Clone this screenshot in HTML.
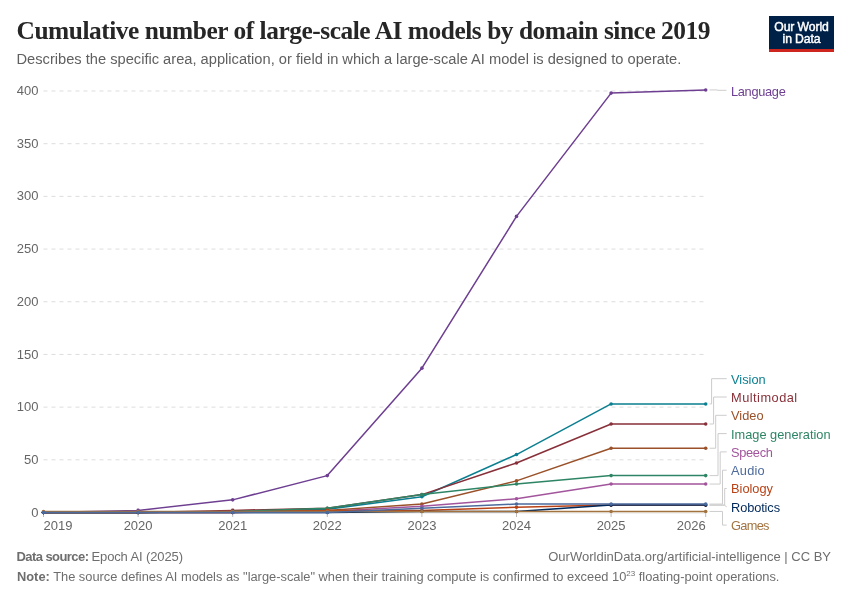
<!DOCTYPE html>
<html><head><meta charset="utf-8"><style>
html,body{margin:0;padding:0;background:#fff;width:850px;height:600px;overflow:hidden}
svg{display:block;will-change:transform}
text{font-family:"Liberation Sans",sans-serif}
.ax{font-size:13px;fill:#666}
.lb{font-size:12.8px}
.title{font-family:"Liberation Serif",serif;font-weight:bold;font-size:25.4px;fill:#262626}
.sub{font-size:14.67px;fill:#606060}
.ft{font-size:12.85px;fill:#6e6e6e}
.ft2{font-size:13px;fill:#6e6e6e}
</style></head><body>
<svg width="850" height="600" viewBox="0 0 850 600">

<text x="16.5" y="38.6" class="title" textLength="694" lengthAdjust="spacing">Cumulative number of large-scale AI models by domain since 2019</text>
<text x="16.5" y="63.6" class="sub">Describes the specific area, application, or field in which a large-scale AI model is designed to operate.</text>
<rect x="769" y="16" width="65" height="33" fill="#002147"/>
<rect x="769" y="49" width="65" height="3" fill="#ce261e"/>
<text x="801.5" y="31" text-anchor="middle" fill="#fff" style="font-size:12.2px;letter-spacing:-0.1px" stroke="#fff" stroke-width="0.45">Our World</text>
<text x="801.5" y="43.2" text-anchor="middle" fill="#fff" style="font-size:12.2px;letter-spacing:-0.1px" stroke="#fff" stroke-width="0.45">in Data</text>
<line x1="43.5" x2="705.7" y1="459.81" y2="459.81" stroke="#dddddd" stroke-width="1" stroke-dasharray="4,4"/>
<line x1="43.5" x2="705.7" y1="407.12" y2="407.12" stroke="#dddddd" stroke-width="1" stroke-dasharray="4,4"/>
<line x1="43.5" x2="705.7" y1="354.44" y2="354.44" stroke="#dddddd" stroke-width="1" stroke-dasharray="4,4"/>
<line x1="43.5" x2="705.7" y1="301.75" y2="301.75" stroke="#dddddd" stroke-width="1" stroke-dasharray="4,4"/>
<line x1="43.5" x2="705.7" y1="249.06" y2="249.06" stroke="#dddddd" stroke-width="1" stroke-dasharray="4,4"/>
<line x1="43.5" x2="705.7" y1="196.38" y2="196.38" stroke="#dddddd" stroke-width="1" stroke-dasharray="4,4"/>
<line x1="43.5" x2="705.7" y1="143.69" y2="143.69" stroke="#dddddd" stroke-width="1" stroke-dasharray="4,4"/>
<line x1="43.5" x2="705.7" y1="91.00" y2="91.00" stroke="#dddddd" stroke-width="1" stroke-dasharray="4,4"/>
<text x="38.5" y="516.60" text-anchor="end" class="ax">0</text>
<text x="38.5" y="463.91" text-anchor="end" class="ax">50</text>
<text x="38.5" y="411.23" text-anchor="end" class="ax">100</text>
<text x="38.5" y="358.54" text-anchor="end" class="ax">150</text>
<text x="38.5" y="305.85" text-anchor="end" class="ax">200</text>
<text x="38.5" y="253.16" text-anchor="end" class="ax">250</text>
<text x="38.5" y="200.47" text-anchor="end" class="ax">300</text>
<text x="38.5" y="147.79" text-anchor="end" class="ax">350</text>
<text x="38.5" y="95.10" text-anchor="end" class="ax">400</text>
<line x1="43.50" x2="43.50" y1="512.5" y2="517" stroke="#bbb" stroke-width="1"/>
<text x="43.50" y="529.7" text-anchor="start" class="ax">2019</text>
<line x1="138.10" x2="138.10" y1="512.5" y2="517" stroke="#bbb" stroke-width="1"/>
<text x="138.10" y="529.7" text-anchor="middle" class="ax">2020</text>
<line x1="232.70" x2="232.70" y1="512.5" y2="517" stroke="#bbb" stroke-width="1"/>
<text x="232.70" y="529.7" text-anchor="middle" class="ax">2021</text>
<line x1="327.30" x2="327.30" y1="512.5" y2="517" stroke="#bbb" stroke-width="1"/>
<text x="327.30" y="529.7" text-anchor="middle" class="ax">2022</text>
<line x1="421.90" x2="421.90" y1="512.5" y2="517" stroke="#bbb" stroke-width="1"/>
<text x="421.90" y="529.7" text-anchor="middle" class="ax">2023</text>
<line x1="516.50" x2="516.50" y1="512.5" y2="517" stroke="#bbb" stroke-width="1"/>
<text x="516.50" y="529.7" text-anchor="middle" class="ax">2024</text>
<line x1="611.10" x2="611.10" y1="512.5" y2="517" stroke="#bbb" stroke-width="1"/>
<text x="611.10" y="529.7" text-anchor="middle" class="ax">2025</text>
<line x1="705.70" x2="705.70" y1="512.5" y2="517" stroke="#bbb" stroke-width="1"/>
<text x="705.70" y="529.7" text-anchor="end" class="ax">2026</text>
<line x1="43.5" x2="705.7" y1="513" y2="513" stroke="#e6e6e6" stroke-width="1"/>
<polyline points="43.50,512.50 138.10,512.50 232.70,511.45 327.30,509.34 421.90,496.69 516.50,454.54 611.10,403.96 705.70,403.96" fill="none" stroke="#0B7F90" stroke-width="1.5" stroke-linejoin="round"/>
<circle cx="43.50" cy="512.50" r="1.8" fill="#0B7F90"/>
<circle cx="138.10" cy="512.50" r="1.8" fill="#0B7F90"/>
<circle cx="232.70" cy="511.45" r="1.8" fill="#0B7F90"/>
<circle cx="327.30" cy="509.34" r="1.8" fill="#0B7F90"/>
<circle cx="421.90" cy="496.69" r="1.8" fill="#0B7F90"/>
<circle cx="516.50" cy="454.54" r="1.8" fill="#0B7F90"/>
<circle cx="611.10" cy="403.96" r="1.8" fill="#0B7F90"/>
<circle cx="705.70" cy="403.96" r="1.8" fill="#0B7F90"/>
<polyline points="43.50,512.50 138.10,512.50 232.70,511.45 327.30,510.39 421.90,504.07 516.50,480.89 611.10,448.22 705.70,448.22" fill="none" stroke="#9A5129" stroke-width="1.5" stroke-linejoin="round"/>
<circle cx="43.50" cy="512.50" r="1.8" fill="#9A5129"/>
<circle cx="138.10" cy="512.50" r="1.8" fill="#9A5129"/>
<circle cx="232.70" cy="511.45" r="1.8" fill="#9A5129"/>
<circle cx="327.30" cy="510.39" r="1.8" fill="#9A5129"/>
<circle cx="421.90" cy="504.07" r="1.8" fill="#9A5129"/>
<circle cx="516.50" cy="480.89" r="1.8" fill="#9A5129"/>
<circle cx="611.10" cy="448.22" r="1.8" fill="#9A5129"/>
<circle cx="705.70" cy="448.22" r="1.8" fill="#9A5129"/>
<polyline points="43.50,512.50 138.10,512.50 232.70,512.50 327.30,511.45 421.90,506.18 516.50,498.80 611.10,484.05 705.70,484.05" fill="none" stroke="#A2559C" stroke-width="1.5" stroke-linejoin="round"/>
<circle cx="43.50" cy="512.50" r="1.8" fill="#A2559C"/>
<circle cx="138.10" cy="512.50" r="1.8" fill="#A2559C"/>
<circle cx="232.70" cy="512.50" r="1.8" fill="#A2559C"/>
<circle cx="327.30" cy="511.45" r="1.8" fill="#A2559C"/>
<circle cx="421.90" cy="506.18" r="1.8" fill="#A2559C"/>
<circle cx="516.50" cy="498.80" r="1.8" fill="#A2559C"/>
<circle cx="611.10" cy="484.05" r="1.8" fill="#A2559C"/>
<circle cx="705.70" cy="484.05" r="1.8" fill="#A2559C"/>
<polyline points="43.50,512.50 138.10,512.50 232.70,510.39 327.30,508.29 421.90,494.59 516.50,462.97 611.10,423.99 705.70,423.99" fill="none" stroke="#883039" stroke-width="1.5" stroke-linejoin="round"/>
<circle cx="43.50" cy="512.50" r="1.8" fill="#883039"/>
<circle cx="138.10" cy="512.50" r="1.8" fill="#883039"/>
<circle cx="232.70" cy="510.39" r="1.8" fill="#883039"/>
<circle cx="327.30" cy="508.29" r="1.8" fill="#883039"/>
<circle cx="421.90" cy="494.59" r="1.8" fill="#883039"/>
<circle cx="516.50" cy="462.97" r="1.8" fill="#883039"/>
<circle cx="611.10" cy="423.99" r="1.8" fill="#883039"/>
<circle cx="705.70" cy="423.99" r="1.8" fill="#883039"/>
<polyline points="43.50,512.50 138.10,510.39 232.70,499.86 327.30,475.62 421.90,368.14 516.50,216.40 611.10,93.11 705.70,89.95" fill="none" stroke="#6D3E91" stroke-width="1.5" stroke-linejoin="round"/>
<circle cx="43.50" cy="512.50" r="1.8" fill="#6D3E91"/>
<circle cx="138.10" cy="510.39" r="1.8" fill="#6D3E91"/>
<circle cx="232.70" cy="499.86" r="1.8" fill="#6D3E91"/>
<circle cx="327.30" cy="475.62" r="1.8" fill="#6D3E91"/>
<circle cx="421.90" cy="368.14" r="1.8" fill="#6D3E91"/>
<circle cx="516.50" cy="216.40" r="1.8" fill="#6D3E91"/>
<circle cx="611.10" cy="93.11" r="1.8" fill="#6D3E91"/>
<circle cx="705.70" cy="89.95" r="1.8" fill="#6D3E91"/>
<polyline points="43.50,512.50 138.10,512.50 232.70,511.45 327.30,508.29 421.90,494.59 516.50,484.05 611.10,475.62 705.70,475.62" fill="none" stroke="#2E8565" stroke-width="1.5" stroke-linejoin="round"/>
<circle cx="43.50" cy="512.50" r="1.8" fill="#2E8565"/>
<circle cx="138.10" cy="512.50" r="1.8" fill="#2E8565"/>
<circle cx="232.70" cy="511.45" r="1.8" fill="#2E8565"/>
<circle cx="327.30" cy="508.29" r="1.8" fill="#2E8565"/>
<circle cx="421.90" cy="494.59" r="1.8" fill="#2E8565"/>
<circle cx="516.50" cy="484.05" r="1.8" fill="#2E8565"/>
<circle cx="611.10" cy="475.62" r="1.8" fill="#2E8565"/>
<circle cx="705.70" cy="475.62" r="1.8" fill="#2E8565"/>
<polyline points="43.50,512.50 138.10,512.50 232.70,512.50 327.30,510.39 421.90,510.39 516.50,507.23 611.10,505.12 705.70,505.12" fill="none" stroke="#B84216" stroke-width="1.5" stroke-linejoin="round"/>
<circle cx="43.50" cy="512.50" r="1.8" fill="#B84216"/>
<circle cx="138.10" cy="512.50" r="1.8" fill="#B84216"/>
<circle cx="232.70" cy="512.50" r="1.8" fill="#B84216"/>
<circle cx="327.30" cy="510.39" r="1.8" fill="#B84216"/>
<circle cx="421.90" cy="510.39" r="1.8" fill="#B84216"/>
<circle cx="516.50" cy="507.23" r="1.8" fill="#B84216"/>
<circle cx="611.10" cy="505.12" r="1.8" fill="#B84216"/>
<circle cx="705.70" cy="505.12" r="1.8" fill="#B84216"/>
<polyline points="43.50,512.50 138.10,512.50 232.70,512.50 327.30,512.50 421.90,511.45 516.50,511.45 611.10,505.12 705.70,505.12" fill="none" stroke="#00295B" stroke-width="1.5" stroke-linejoin="round"/>
<circle cx="43.50" cy="512.50" r="1.8" fill="#00295B"/>
<circle cx="138.10" cy="512.50" r="1.8" fill="#00295B"/>
<circle cx="232.70" cy="512.50" r="1.8" fill="#00295B"/>
<circle cx="327.30" cy="512.50" r="1.8" fill="#00295B"/>
<circle cx="421.90" cy="511.45" r="1.8" fill="#00295B"/>
<circle cx="516.50" cy="511.45" r="1.8" fill="#00295B"/>
<circle cx="611.10" cy="505.12" r="1.8" fill="#00295B"/>
<circle cx="705.70" cy="505.12" r="1.8" fill="#00295B"/>
<polyline points="43.50,511.45 138.10,511.45 232.70,511.45 327.30,511.45 421.90,511.45 516.50,511.45 611.10,511.45 705.70,511.45" fill="none" stroke="#A2733F" stroke-width="1.5" stroke-linejoin="round"/>
<circle cx="43.50" cy="511.45" r="1.8" fill="#A2733F"/>
<circle cx="138.10" cy="511.45" r="1.8" fill="#A2733F"/>
<circle cx="232.70" cy="511.45" r="1.8" fill="#A2733F"/>
<circle cx="327.30" cy="511.45" r="1.8" fill="#A2733F"/>
<circle cx="421.90" cy="511.45" r="1.8" fill="#A2733F"/>
<circle cx="516.50" cy="511.45" r="1.8" fill="#A2733F"/>
<circle cx="611.10" cy="511.45" r="1.8" fill="#A2733F"/>
<circle cx="705.70" cy="511.45" r="1.8" fill="#A2733F"/>
<polyline points="43.50,512.50 138.10,512.50 232.70,512.50 327.30,512.50 421.90,508.29 516.50,504.07 611.10,504.07 705.70,504.07" fill="none" stroke="#4C6A9C" stroke-width="1.5" stroke-linejoin="round"/>
<circle cx="43.50" cy="512.50" r="1.8" fill="#4C6A9C"/>
<circle cx="138.10" cy="512.50" r="1.8" fill="#4C6A9C"/>
<circle cx="232.70" cy="512.50" r="1.8" fill="#4C6A9C"/>
<circle cx="327.30" cy="512.50" r="1.8" fill="#4C6A9C"/>
<circle cx="421.90" cy="508.29" r="1.8" fill="#4C6A9C"/>
<circle cx="516.50" cy="504.07" r="1.8" fill="#4C6A9C"/>
<circle cx="611.10" cy="504.07" r="1.8" fill="#4C6A9C"/>
<circle cx="705.70" cy="504.07" r="1.8" fill="#4C6A9C"/>
<polyline points="709.5,403.96 711.6,403.96 711.6,378.70 726.7,378.70" fill="none" stroke="#cccccc" stroke-width="1"/>
<text x="731" y="383.60" fill="#0B7F90" class="lb">Vision</text>
<polyline points="709.5,423.99 713.6,423.99 713.6,397.00 726.7,397.00" fill="none" stroke="#cccccc" stroke-width="1"/>
<text x="731" y="401.90" fill="#883039" class="lb" textLength="66.2" lengthAdjust="spacing">Multimodal</text>
<polyline points="709.5,448.22 715.7,448.22 715.7,415.30 726.7,415.30" fill="none" stroke="#cccccc" stroke-width="1"/>
<text x="731" y="420.20" fill="#9A5129" class="lb">Video</text>
<polyline points="709.5,475.62 718.0,475.62 718.0,433.60 726.7,433.60" fill="none" stroke="#cccccc" stroke-width="1"/>
<text x="731" y="438.50" fill="#2E8565" class="lb">Image generation</text>
<polyline points="709.5,484.05 720.2,484.05 720.2,451.90 726.7,451.90" fill="none" stroke="#cccccc" stroke-width="1"/>
<text x="731" y="456.80" fill="#A2559C" class="lb" textLength="41.9" lengthAdjust="spacing">Speech</text>
<polyline points="709.5,504.07 722.5,504.07 722.5,470.20 726.7,470.20" fill="none" stroke="#cccccc" stroke-width="1"/>
<text x="731" y="475.10" fill="#4C6A9C" class="lb" textLength="33.7" lengthAdjust="spacing">Audio</text>
<polyline points="709.5,505.12 724.7,505.12 724.7,488.50 726.7,488.50" fill="none" stroke="#cccccc" stroke-width="1"/>
<text x="731" y="493.40" fill="#B84216" class="lb">Biology</text>
<polyline points="709.5,505.12 724.3,505.12 726.7,506.80" fill="none" stroke="#cccccc" stroke-width="1"/>
<text x="731" y="511.70" fill="#00295B" class="lb" textLength="49.05" lengthAdjust="spacing">Robotics</text>
<polyline points="709.5,511.45 722.5,511.45 722.5,525.10 726.7,525.10" fill="none" stroke="#cccccc" stroke-width="1"/>
<text x="731" y="530.00" fill="#A2733F" class="lb" textLength="38.5" lengthAdjust="spacing">Games</text>
<polyline points="709.5,89.95 717.6,89.95 717.6,90.3 726.5,90.3" fill="none" stroke="#cccccc" stroke-width="1"/>
<text x="731" y="95.5" fill="#6D3E91" class="lb" textLength="54.8" lengthAdjust="spacing">Language</text>
<text x="16.5" y="561.2" class="ft2" font-weight="bold" textLength="72.5" lengthAdjust="spacing">Data source:</text>
<text x="91.5" y="561.2" class="ft2" textLength="91.5" lengthAdjust="spacing">Epoch AI (2025)</text>
<text x="831" y="561.2" class="ft" text-anchor="end" style="font-size:13px">OurWorldinData.org/artificial-intelligence | CC BY</text>
<text x="17" y="580.7" class="ft"><tspan font-weight="bold">Note:</tspan> The source defines AI models as "large-scale" when their training compute is confirmed to exceed 10<tspan font-size="8" dy="-5">23</tspan><tspan dy="5"> floating-point operations.</tspan></text>
</svg>
</body></html>
